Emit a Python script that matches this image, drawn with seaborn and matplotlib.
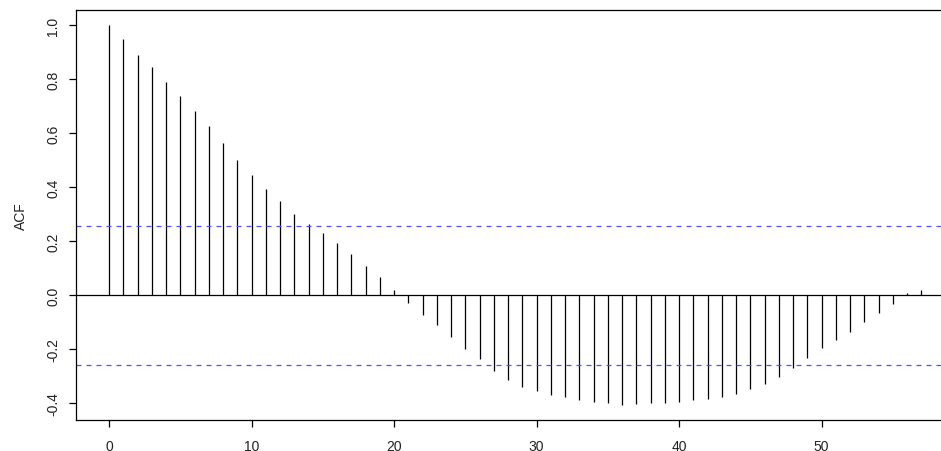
import numpy as np
import pandas as pd
import matplotlib
matplotlib.use("Agg")
import matplotlib.pyplot as plt
import seaborn as sns

lags = list(range(58))
acf_values = [
    1.000, 0.948, 0.888, 0.844, 0.789, 0.736, 0.681, 0.627, 0.563, 0.500,
    0.444, 0.394, 0.349, 0.300, 0.264, 0.231, 0.195, 0.152, 0.109, 0.069,
    0.020, -0.030, -0.072, -0.112, -0.153, -0.200, -0.238, -0.281, -0.315, -0.338,
    -0.356, -0.368, -0.378, -0.388, -0.394, -0.400, -0.405, -0.401, -0.398, -0.398,
    -0.395, -0.389, -0.385, -0.378, -0.364, -0.348, -0.328, -0.302, -0.268, -0.232,
    -0.196, -0.167, -0.136, -0.100, -0.067, -0.033, 0.009, 0.020,
]
conf_limit = 0.2574
x_ticks = [0, 10, 20, 30, 40, 50]
y_ticks = [-0.4, -0.2, 0.0, 0.2, 0.4, 0.6, 0.8, 1.0]
y_label = "ACF"

df = pd.DataFrame({"lag": lags, "acf": acf_values})

sns.set_theme(style="ticks")
plt.rcParams["font.family"] = ["Liberation Sans", "DejaVu Sans"]

fig = plt.figure(figsize=(9.41, 4.52), dpi=100)
ax = fig.add_axes([76 / 941, 31.2 / 452, 1 - 76 / 941, (420.8 - 11) / 452])

ax.vlines(df["lag"], 0, df["acf"], color="black", linewidth=0.9)
ax.axhline(0, color="black", linewidth=0.9)
for c in (conf_limit, -conf_limit):
    ax.axhline(c, color="#5050ff", linewidth=0.9, linestyle=(0, (4, 4)))

ax.set_xlim(-2.32, (941 - 109) / 14.25)
ax.set_ylim(-0.4613, 1.0562)
ax.set_xticks(x_ticks)
ax.set_xticklabels([str(t) for t in x_ticks])
ax.set_yticks(y_ticks)
ax.set_yticklabels([f"{t:.1f}" for t in y_ticks], rotation=90, va="center")
ax.set_ylabel(y_label, fontsize=10, labelpad=13, color="#222222")
ax.set_xlabel("")

ax.tick_params(axis="both", direction="out", length=5, width=0.9, color="black",
               labelsize=10, labelcolor="#222222")
ax.tick_params(axis="x", pad=8.5)
ax.tick_params(axis="y", pad=6.5)
for side in ("left", "bottom", "top"):
    ax.spines[side].set_color("black")
    ax.spines[side].set_linewidth(0.9)
ax.spines["right"].set_visible(False)
ax.grid(False)
ax.set_facecolor("white")
fig.patch.set_facecolor("white")

fig.savefig("out.png", dpi=100)
